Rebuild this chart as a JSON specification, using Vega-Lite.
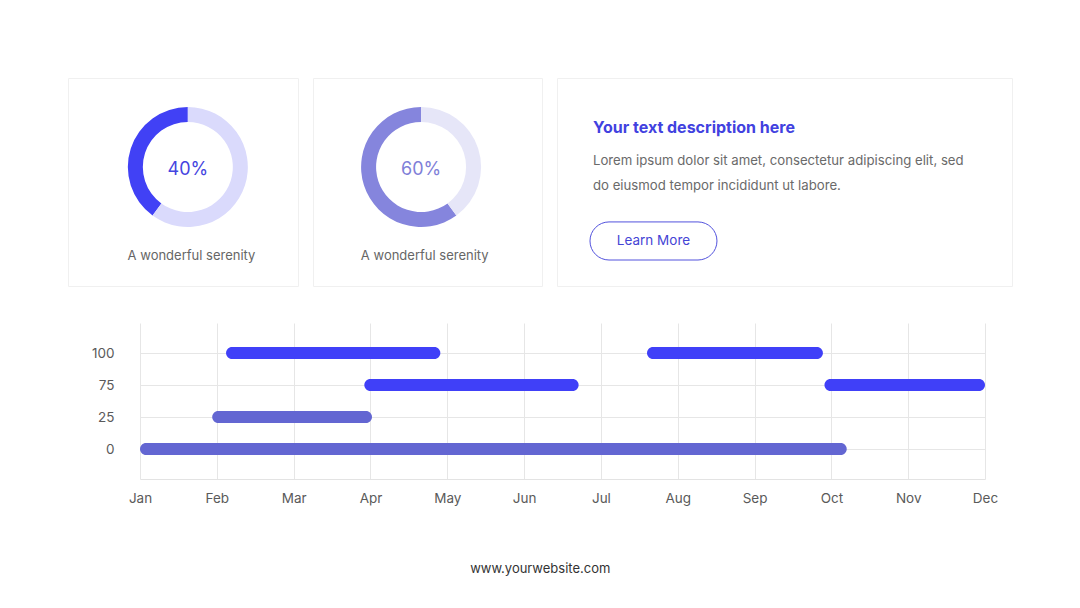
{
  "$schema": "https://vega.github.io/schema/vega-lite/v6.json",
  "background": "white",
  "padding": {"left": 67, "top": 77, "right": 0, "bottom": 0},
  "config": {
    "font": "Inter",
    "view": {"stroke": null},
    "axis": {"labelFont": "Inter"}
  },
  "title": {"text": "www.yourwebsite.com", "orient": "bottom", "anchor": "middle", "fontSize": 13, "fontWeight": "normal", "color": "#333333", "offset": 58},
  "datasets": {
    "donuts": [
      {"chart": "left", "part": "filled", "value": 40},
      {"chart": "left", "part": "rest", "value": 60},
      {"chart": "right", "part": "filled", "value": 60},
      {"chart": "right", "part": "rest", "value": 40}
    ],
    "labels": [
      {"chart": "left", "pct": "40%", "caption": "A wonderful serenity"},
      {"chart": "right", "pct": "60%", "caption": "A wonderful serenity"}
    ],
    "copy": [
      {"heading": "Your text description here", "body": "Lorem ipsum dolor sit amet, consectetur adipiscing elit, sed\ndo eiusmod tempor incididunt ut labore.", "button": "Learn More"}
    ],
    "tasks": [
      {"row": 100, "start": 1.12, "end": 3.91, "tone": "bright"},
      {"row": 100, "start": 6.6, "end": 8.89, "tone": "bright"},
      {"row": 75, "start": 2.92, "end": 5.71, "tone": "bright"},
      {"row": 75, "start": 8.91, "end": 11.0, "tone": "bright"},
      {"row": 25, "start": 0.94, "end": 3.02, "tone": "muted"},
      {"row": 0, "start": 0.0, "end": 9.2, "tone": "muted"}
    ]
  },
  "spacing": 36,
  "resolve": {"scale": {"color": "independent"}},
  "vconcat": [
    {
      "spacing": 13,
      "resolve": {"scale": {"color": "independent"}},
      "hconcat": [
        {
          "width": 230, "height": 208,
          "view": {"fill": "white", "stroke": "#F0F0F0"},
          "layer": [
            {
              "data": {"name": "donuts"},
              "transform": [{"filter": "datum.chart === 'left'"}],
              "mark": {"type": "arc", "innerRadius": 45, "outerRadius": 60},
              "encoding": {
                "theta": {"field": "value", "type": "quantitative", "stack": true},
                "order": {"field": "part", "sort": "descending"},
                "color": {"field": "part", "type": "nominal", "scale": {"domain": ["filled", "rest"], "range": ["#4141F5", "#DADAFC"]}, "legend": null},
                "x": {"datum": 52.1, "type": "quantitative", "scale": {"domain": [0, 100]}, "axis": null},
                "y": {"datum": 42.8, "type": "quantitative", "scale": {"domain": [0, 100], "reverse": true}, "axis": null}
              }
            },
            {
              "data": {"name": "labels"},
              "transform": [{"filter": "datum.chart === 'left'"}],
              "mark": {"type": "text", "fontSize": 18, "color": "#4545E0", "align": "center", "baseline": "middle"},
              "encoding": {
                "text": {"field": "pct"},
                "x": {"datum": 52.1, "type": "quantitative", "scale": {"domain": [0, 100]}, "axis": null},
                "y": {"datum": 44.4, "type": "quantitative", "scale": {"domain": [0, 100], "reverse": true}, "axis": null}
              }
            },
            {
              "data": {"name": "labels"},
              "transform": [{"filter": "datum.chart === 'left'"}],
              "mark": {"type": "text", "fontSize": 13, "color": "#666666", "align": "center", "baseline": "middle"},
              "encoding": {
                "text": {"field": "caption"},
                "x": {"datum": 53.7, "type": "quantitative", "scale": {"domain": [0, 100]}, "axis": null},
                "y": {"datum": 85.6, "type": "quantitative", "scale": {"domain": [0, 100], "reverse": true}, "axis": null}
              }
            }
          ]
        },
        {
          "width": 229, "height": 208,
          "view": {"fill": "white", "stroke": "#F0F0F0"},
          "layer": [
            {
              "data": {"name": "donuts"},
              "transform": [{"filter": "datum.chart === 'right'"}],
              "mark": {"type": "arc", "innerRadius": 45, "outerRadius": 60},
              "encoding": {
                "theta": {"field": "value", "type": "quantitative", "stack": true},
                "order": {"field": "part", "sort": "descending"},
                "color": {"field": "part", "type": "nominal", "scale": {"domain": ["filled", "rest"], "range": ["#8585DD", "#E6E6F8"]}, "legend": null},
                "x": {"datum": 47.2, "type": "quantitative", "scale": {"domain": [0, 100]}, "axis": null},
                "y": {"datum": 42.8, "type": "quantitative", "scale": {"domain": [0, 100], "reverse": true}, "axis": null}
              }
            },
            {
              "data": {"name": "labels"},
              "transform": [{"filter": "datum.chart === 'right'"}],
              "mark": {"type": "text", "fontSize": 18, "color": "#8080D8", "align": "center", "baseline": "middle"},
              "encoding": {
                "text": {"field": "pct"},
                "x": {"datum": 47.2, "type": "quantitative", "scale": {"domain": [0, 100]}, "axis": null},
                "y": {"datum": 44.4, "type": "quantitative", "scale": {"domain": [0, 100], "reverse": true}, "axis": null}
              }
            },
            {
              "data": {"name": "labels"},
              "transform": [{"filter": "datum.chart === 'right'"}],
              "mark": {"type": "text", "fontSize": 13, "color": "#666666", "align": "center", "baseline": "middle"},
              "encoding": {
                "text": {"field": "caption"},
                "x": {"datum": 48.8, "type": "quantitative", "scale": {"domain": [0, 100]}, "axis": null},
                "y": {"datum": 85.6, "type": "quantitative", "scale": {"domain": [0, 100], "reverse": true}, "axis": null}
              }
            }
          ]
        },
        {
          "width": 455, "height": 208,
          "view": {"fill": "white", "stroke": "#F0F0F0"},
          "data": {"name": "copy"},
          "layer": [
            {
              "mark": {"type": "text", "fontSize": 16, "fontWeight": "bold", "color": "#4141E0", "align": "left", "baseline": "middle"},
              "encoding": {
                "text": {"field": "heading"},
                "x": {"datum": 7.9, "type": "quantitative", "scale": {"domain": [0, 100]}, "axis": null},
                "y": {"datum": 24.1, "type": "quantitative", "scale": {"domain": [0, 100], "reverse": true}, "axis": null}
              }
            },
            {
              "mark": {"type": "text", "fontSize": 13.2, "color": "#6A6A6A", "align": "left", "baseline": "middle", "lineBreak": "\n", "lineHeight": 25},
              "encoding": {
                "text": {"field": "body"},
                "x": {"datum": 7.9, "type": "quantitative", "scale": {"domain": [0, 100]}, "axis": null},
                "y": {"datum": 40.1, "type": "quantitative", "scale": {"domain": [0, 100], "reverse": true}, "axis": null}
              }
            },
            {
              "mark": {"type": "rect", "cornerRadius": 19, "fill": "white", "stroke": "#5252DD", "strokeWidth": 1},
              "encoding": {
                "x": {"datum": 7.25, "type": "quantitative", "scale": {"domain": [0, 100]}, "axis": null},
                "x2": {"datum": 35.16},
                "y": {"datum": 69.2, "type": "quantitative", "scale": {"domain": [0, 100], "reverse": true}, "axis": null},
                "y2": {"datum": 87.5}
              }
            },
            {
              "mark": {"type": "text", "fontSize": 13.5, "color": "#4545D5", "align": "center", "baseline": "middle"},
              "encoding": {
                "text": {"field": "button"},
                "x": {"datum": 21.2, "type": "quantitative", "scale": {"domain": [0, 100]}, "axis": null},
                "y": {"datum": 78.4, "type": "quantitative", "scale": {"domain": [0, 100], "reverse": true}, "axis": null}
              }
            }
          ]
        }
      ]
    },
    {
      "width": 945, "height": 156,
      "data": {"name": "tasks"},
      "mark": {"type": "bar", "cornerRadius": 6, "height": 12},
      "encoding": {
        "x": {
          "field": "start", "type": "quantitative",
          "scale": {"domain": [0, 11], "range": [72, 917], "nice": false, "zero": false},
          "axis": {
            "title": null, "values": [0, 1, 2, 3, 4, 5, 6, 7, 8, 9, 10, 11],
            "labelExpr": "['Jan','Feb','Mar','Apr','May','Jun','Jul','Aug','Sep','Oct','Nov','Dec'][datum.value]",
            "grid": true, "gridColor": "#E6E6E6", "domainColor": "#E3E3E3", "ticks": false,
            "labelPadding": 12, "labelFontSize": 13.5, "labelColor": "#5A5A5A", "labelFlush": false, "labelOverlap": false
          }
        },
        "x2": {"field": "end"},
        "y": {
          "field": "row", "type": "ordinal", "sort": "descending",
          "scale": {"type": "point", "padding": 0.9375},
          "axis": {
            "title": null, "offset": -72, "domain": false, "ticks": false, "grid": true, "gridColor": "#E6E6E6",
            "labelPadding": 26, "labelFontSize": 13.5, "labelColor": "#5A5A5A"
          }
        },
        "color": {"field": "tone", "type": "nominal", "scale": {"domain": ["bright", "muted"], "range": ["#4040F8", "#6366D2"]}, "legend": null}
      }
    }
  ]
}
